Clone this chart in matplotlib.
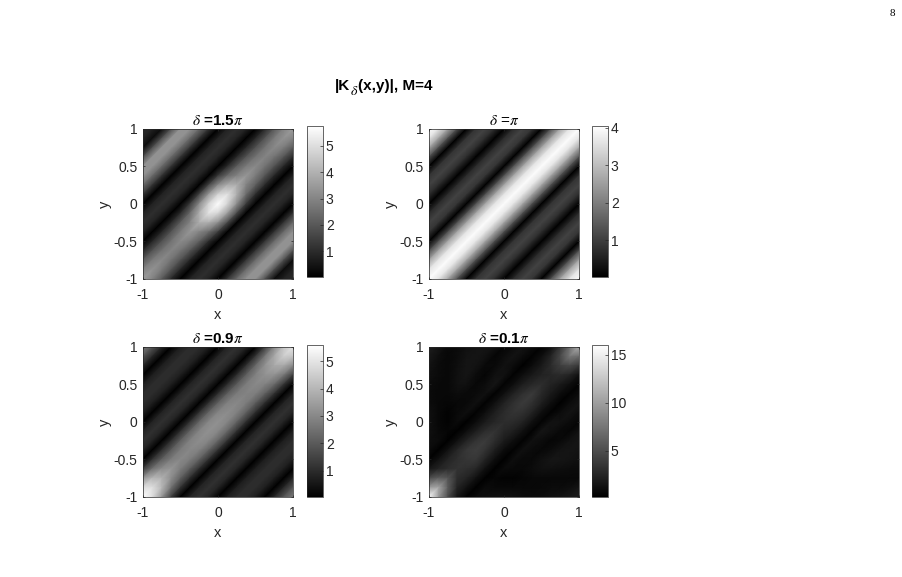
import numpy as np
import matplotlib
matplotlib.use("Agg")
import matplotlib.pyplot as plt
from matplotlib.tri import Triangulation

plt.rcParams['font.family'] = ['Liberation Sans', 'DejaVu Sans']
plt.rcParams['mathtext.fontset'] = 'stix'

# Upper-left triangles of each 17x17 field (rows y=1..-1, columns x=-1..1 in steps of 0.125),
# the lower-right part is the mirror across y=x.
P1 = [
 [1.0,.8,.3,1.8,3.3,3.3,2.4,1.2,.05,.8,1.1,.8,.05,.96,2.05,2.96,3.5],
 [.8,.3,1.8,3.3,3.3,2.4,1.2,.05,.8,1.1,.8,.05,.9,1.92,2.78,3.3],
 [.3,1.8,3.3,3.3,2.4,1.2,.05,.8,1.1,.8,.05,.9,1.86,2.61,3.1],
 [1.8,3.3,3.3,2.4,1.2,.05,.8,1.1,.8,.05,.96,1.92,2.61,3.0],
 [3.3,3.3,2.4,1.2,.05,.8,1.1,.8,.05,1.02,2.11,2.78,3.1],
 [3.3,2.4,1.2,.05,.8,1.1,.8,.05,1.35,2.42,2.96,3.4],
 [2.4,1.2,.05,.8,1.1,.8,.05,1.65,3.16,3.92,3.9],
 [1.2,.05,.8,1.1,.8,.05,1.65,3.53,4.79,5.1],
 [.05,.8,1.1,.8,.05,1.35,3.16,4.79,5.7],
 [.8,1.1,.8,.05,1.02,2.42,3.92,5.1],
 [1.1,.8,.05,.96,2.11,2.96,3.9],
 [.8,.05,.9,1.92,2.78,3.4],
 [.05,.9,1.86,2.61,3.1],
 [.96,1.92,2.61,3.0],
 [2.05,2.78,3.1],
 [2.96,3.3],
 [3.5],
]
P2 = [
 [4,3.62,2.61,1.27,0,.85,1.08,.72,0,.72,1.08,.85,0,1.27,2.61,3.62,4],
 [3.62,2.61,1.27,0,.85,1.08,.72,0,.72,1.08,.85,0,1.27,2.61,3.62,4],
 [2.61,1.27,0,.85,1.08,.72,0,.72,1.08,.85,0,1.27,2.61,3.62,4],
 [1.27,0,.85,1.08,.72,0,.72,1.08,.85,0,1.27,2.61,3.62,4],
 [0,.85,1.08,.72,0,.72,1.08,.85,0,1.27,2.61,3.62,4],
 [.85,1.08,.72,0,.72,1.08,.85,0,1.27,2.61,3.62,4],
 [1.08,.72,0,.72,1.08,.85,0,1.27,2.61,3.62,4],
 [.72,0,.72,1.08,.85,0,1.27,2.61,3.62,4],
 [0,.72,1.08,.85,0,1.27,2.61,3.62,4],
 [.72,1.08,.85,0,1.27,2.61,3.62,4],
 [1.08,.85,0,1.27,2.61,3.62,4],
 [.85,0,1.27,2.61,3.62,4],
 [0,1.27,2.61,3.62,4],
 [1.27,2.61,3.62,4],
 [2.61,3.62,4],
 [3.62,4],
 [4],
]
P3 = [
 [2.7,1.9,.9,.05,.7,1.0,1.0,.7,.05,.8,1.1,.8,.05,1.4,3.0,4.3,5.0],
 [1.9,.9,.05,.7,1.0,1.0,.7,.05,.8,1.1,.8,.05,1.2,2.6,3.7,4.5],
 [.9,.05,.7,1.0,1.0,.7,.05,.8,1.1,.8,.05,1.1,2.3,3.2,3.7],
 [.05,.7,1.0,1.0,.7,.05,.8,1.1,.8,.05,1.02,2.1,2.85,3.2],
 [.7,1.0,1.0,.7,.05,.8,1.1,.8,.05,1.03,2.03,2.75,3.0],
 [1.0,1.0,.7,.05,.8,1.1,.8,.05,1.07,2.1,2.74,2.9],
 [1.0,.7,.05,.8,1.1,.8,.05,1.10,2.17,2.84,3.0],
 [.7,.05,.8,1.1,.8,.05,1.12,2.24,2.93,3.1],
 [.05,.8,1.1,.8,.05,1.10,2.24,2.98,3.2],
 [.8,1.1,.8,.05,1.07,2.17,2.93,3.2],
 [1.1,.8,.05,1.03,2.1,2.84,3.1],
 [.8,.05,1.03,2.03,2.74,3.0],
 [.05,1.12,2.1,2.74,3.0],
 [1.4,2.5,3.1,3.3],
 [3.3,4.0,3.9],
 [4.9,4.9],
 [5.55],
]
P4 = [
 [2.0,1.5,.8,.9,1.2,1.4,1.5,1.3,.6,1.0,1.4,1.0,.4,1.2,3.6,7.0,11.0],
 [1.7,1.1,.7,1.0,1.4,1.5,1.3,.6,1.0,1.4,1.0,.4,1.1,2.4,4.6,7.5],
 [1.4,.9,.7,1.1,1.5,1.4,.8,.8,1.3,1.0,.3,1.0,1.8,2.8,4.0],
 [1.2,.9,.7,1.2,1.5,1.0,.6,1.2,1.3,.4,1.1,1.8,2.3,2.6],
 [1.0,.8,.7,1.2,1.2,.7,1.0,1.5,.5,1.1,2.1,2.7,3.0],
 [.9,.7,.7,1.0,.8,.9,1.2,.4,1.2,2.3,3.2,3.8],
 [1.0,.7,.6,.7,.8,1.2,.4,1.2,2.3,3.2,3.8],
 [1.2,.7,.4,.8,1.1,.4,1.1,2.1,2.9,3.4],
 [1.2,.7,.4,.9,.3,1.0,1.9,2.6,3.0],
 [1.2,.8,.6,.3,1.1,2.1,3.0,3.4],
 [1.1,.9,.3,1.2,2.4,3.4,3.9],
 [.9,.3,1.3,2.6,3.6,4.0],
 [.4,1.3,2.4,3.1,3.5],
 [1.6,2.4,3.0,3.3],
 [5.0,6.0,5.5],
 [10.0,10.5],
 [15.7],
]
titles = [r'$\delta$ =1.5$\pi$', r'$\delta$ =$\pi$', r'$\delta$ =0.9$\pi$', r'$\delta$ =0.1$\pi$']
title_weights = ['bold', 'normal', 'bold', 'bold']
fields = [P1, P2, P3, P4]
ranges = [(0.03, 5.75), (0.02, 4.05), (0.03, 5.6), (0.2, 16.0)]
cbar_ticks = [[1, 2, 3, 4, 5], [1, 2, 3, 4], [1, 2, 3, 4, 5], [5, 10, 15]]
xticks = [-1, 0, 1]
yticks = [-1, -0.5, 0, 0.5, 1]
ytick_labels = ['-1', '-0.5', '0', '0.5', '1']
grid_y = [1 - .125 * k for k in range(17)]
grid_x = [-1 + .125 * k for k in range(17)]

W, H = 903, 577
fig = plt.figure(figsize=(W / 100, H / 100), dpi=100)
def place(l, t, r, b):
    return fig.add_axes([l / W, 1 - b / H, (r - l) / W, (b - t) / H])

def full(tri):
    z = np.zeros((17, 17))
    for r, row in enumerate(tri):
        for c, v in enumerate(row):
            z[r, c] = v
            z[16 - c, 16 - r] = v
    return z

# triangles whose shared edges run parallel to y=x, so the diagonal valleys stay unbroken
X, Y = np.meshgrid(grid_x, grid_y)
tris = []
for r in range(16):
    for c in range(16):
        a = r * 17 + c          # top-left
        b = a + 1               # top-right
        d = a + 17              # bottom-left
        e = d + 1               # bottom-right
        tris += [[a, b, d], [b, e, d]]
tri_grid = Triangulation(X.ravel(), Y.ravel(), tris)

boxes = [(143, 129, 293, 279), (429, 129, 579, 279), (143, 347, 293, 497), (429, 347, 579, 497)]
cboxes = [(307, 126, 323, 277), (592, 126, 608, 277), (307, 345, 323, 497), (592, 345, 608, 497)]
dark = '#262626'
FS = 10
for i in range(4):
    ax = place(*boxes[i])
    im = ax.tripcolor(tri_grid, full(fields[i]).ravel(), shading='gouraud', cmap='gray',
                      vmin=ranges[i][0], vmax=ranges[i][1])
    ax.set_xlim(-1, 1)
    ax.set_ylim(-1, 1)
    ax.set_xticks(xticks)
    ax.set_xticklabels(['-1', '0', '1'])
    ax.set_yticks(yticks)
    ax.set_yticklabels(ytick_labels)
    ax.tick_params(direction='in', length=1.5, width=0.5, colors=dark, labelsize=FS, pad=4,
                   top=True, right=True)
    ax.tick_params(axis='x', pad=6.5)
    for s in ax.spines.values():
        s.set_linewidth(0.5)
        s.set_color(dark)
    ax.set_xlabel('x', fontsize=FS + 0.5, color=dark, labelpad=4)
    ax.set_ylabel('y', fontsize=FS + 0.5, color=dark, labelpad=1.5)
    ax.set_title(titles[i], fontsize=11, fontweight=title_weights[i], color='black', pad=3)
    cax = place(*cboxes[i])
    cb = fig.colorbar(im, cax=cax)
    cb.set_ticks(cbar_ticks[i])
    cb.ax.tick_params(direction='in', length=2.5, width=0.5, colors=dark, labelsize=FS, pad=2)
    cb.outline.set_linewidth(0.5)
    cb.outline.set_edgecolor(dark)

title_y = 1 - 86 / H
fig.text(335 / W, title_y, '|K', fontsize=11, fontweight='bold', ha='left', va='center')
fig.text(350 / W, 1 - 91 / H, r'$\delta$', fontsize=10, ha='left', va='center')
fig.text(358 / W, title_y, '(x,y)|, M=4', fontsize=11, fontweight='bold', ha='left', va='center')
fig.text(892 / W, 1 - 14 / H, '8', fontsize=8, family='Liberation Serif', ha='center', va='center')
fig.savefig('out.png', dpi=100)
